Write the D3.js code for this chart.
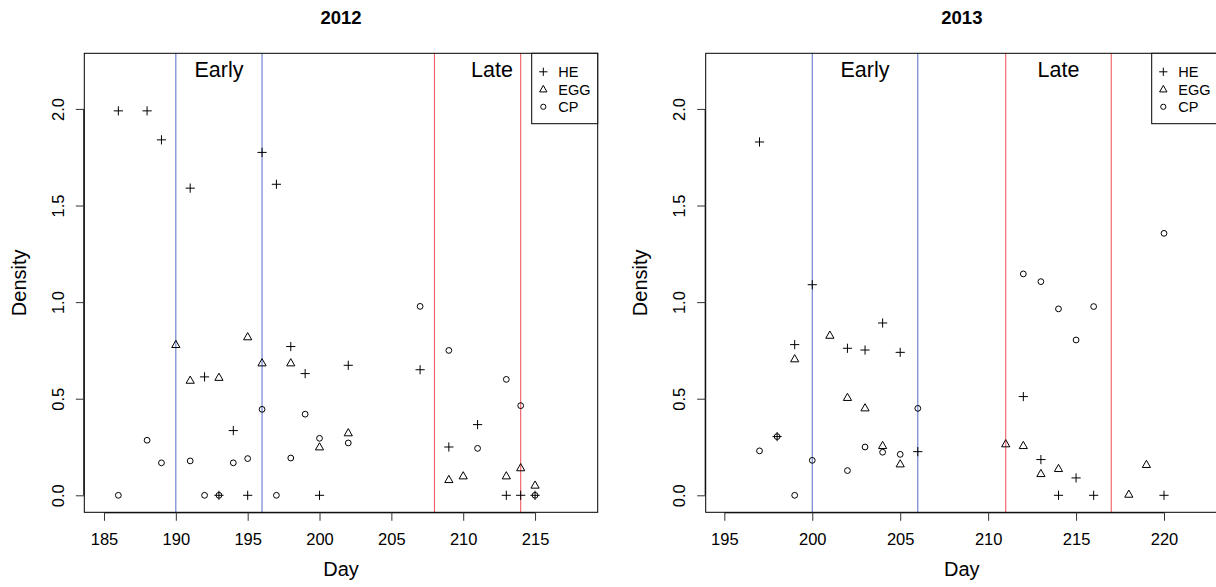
<!DOCTYPE html>
<html>
<head>
<meta charset="utf-8">
<title>Density by day</title>
<script src="https://cdn.jsdelivr.net/npm/d3@7"></script>
<style>
body { margin: 0; background: #fff; }
text { font-family: "Liberation Sans", Arial, sans-serif; fill: #000; }
</style>
</head>
<body>
<script>
// ---- data: [day, density] ----
var he2012 = [[186,1.99],[188,1.99],[189,1.84],[191,1.59],[192,0.613],[193,0],[194,0.335],[195,0],
  [196,1.775],[197,1.61],[198,0.77],[199,0.63],[200,0],[202,0.673],[207,0.65],[209,0.25],
  [211,0.366],[213,0],[214,0],[215,0]];
var egg2012 = [[190,0.78],[191,0.595],[193,0.61],[195,0.82],[196,0.685],[198,0.685],[200,0.25],
  [202,0.323],[209,0.081],[210,0.1],[213,0.1],[214,0.142],[215,0.052]];
var cp2012 = [[186,0],[188,0.285],[189,0.168],[191,0.178],[192,0],[193,0],[194,0.168],[195,0.19],
  [196,0.445],[197,0],[198,0.193],[199,0.42],[200,0.295],[202,0.271],[207,0.978],[209,0.75],
  [211,0.243],[213,0.6],[214,0.464],[215,0]];

var he2013 = [[197,1.829],[198,0.304],[199,0.78],[200,1.09],[202,0.761],[203,0.752],[204,0.892],
  [205,0.74],[206,0.226],[212,0.511],[213,0.185],[214,0],[215,0.09],[216,0],[220,0]];
var egg2013 = [[199,0.706],[201,0.828],[202,0.506],[203,0.452],[204,0.257],[205,0.162],[211,0.266],
  [212,0.257],[213,0.112],[214,0.138],[218,0.005],[219,0.159]];
var cp2013 = [[197,0.23],[198,0.304],[199,0],[200,0.181],[202,0.128],[203,0.25],[204,0.223],
  [205,0.212],[206,0.45],[212,1.146],[213,1.106],[214,0.965],[215,0.804],[216,0.977],[220,1.356]];

var early2012 = [190, 196], late2012 = [208, 214];
var early2013 = [200, 206], late2013 = [211, 217];
var labelDays2012 = [193, 212], labelDays2013 = [203, 214];

var xTicks2012 = [185, 190, 195, 200, 205, 210, 215];
var xTicks2013 = [195, 200, 205, 210, 215, 220];
var yTicks = [0, 0.5, 1, 1.5, 2];
var seriesNames = ["HE", "EGG", "CP"];

var W = 1216, H = 587;
var svg = d3.select("body").append("svg").attr("width", W).attr("height", H);

var top_ = 53.3, bottom_ = 512.3;

function marker(g, type, x, y, s) {
  s = s || 1;
  var p;
  if (type == "HE") {
    var a = 4.6 * s;
    p = "M" + (x-a) + "," + y + "H" + (x+a) + "M" + x + "," + (y-a) + "V" + (y+a);
  } else if (type == "EGG") {
    var hw = 4.1 * s, up = 4.3 * s, dn = 2.9 * s;
    p = "M" + x + "," + (y-up) + "L" + (x+hw) + "," + (y+dn) + "L" + (x-hw) + "," + (y+dn) + "Z";
  } else {
    g.append("circle").attr("cx", x).attr("cy", y).attr("r", 2.9 * s)
      .attr("stroke", "#000").attr("stroke-width", 1).attr("fill", "none");
    return;
  }
  g.append("path").attr("d", p).attr("stroke", "#000").attr("stroke-width", 1).attr("fill", "none");
}

function drawPanel(p) {
  var x = d3.scaleLinear().domain(p.xDomain).range([p.left, p.right]);
  var y = d3.scaleLinear().domain([-0.088, 2.288]).range([bottom_, top_]);
  var g = svg.append("g");

  // title
  g.append("text").attr("x", (p.left + p.right) / 2).attr("y", 23.5)
    .attr("text-anchor", "middle").attr("font-weight", "bold").attr("font-size", "18.5px").text(p.title);

  // period lines
  p.early.forEach(function(d) {
    g.append("line").attr("x1", x(d)).attr("x2", x(d)).attr("y1", top_).attr("y2", bottom_)
      .attr("stroke", "#6479cc").attr("stroke-width", 1.1);
  });
  p.late.forEach(function(d) {
    g.append("line").attr("x1", x(d)).attr("x2", x(d)).attr("y1", top_).attr("y2", bottom_)
      .attr("stroke", "#ef5d62").attr("stroke-width", 1.1);
  });
  g.append("text").attr("x", x(p.labels[0])).attr("y", 77).attr("text-anchor", "middle")
    .attr("font-size", "21.5px").text("Early");
  g.append("text").attr("x", x(p.labels[1])).attr("y", 77).attr("text-anchor", "middle")
    .attr("font-size", "21.5px").text("Late");

  // points
  p.cp.forEach(function(d) { marker(g, "CP", x(d[0]), y(d[1])); });
  p.egg.forEach(function(d) { marker(g, "EGG", x(d[0]), y(d[1])); });
  p.he.forEach(function(d) { marker(g, "HE", x(d[0]), y(d[1])); });

  // box
  g.append("rect").attr("x", p.left).attr("y", top_).attr("width", p.right - p.left)
    .attr("height", bottom_ - top_).attr("fill", "none").attr("stroke", "#000").attr("stroke-width", 1);

  // x axis
  var xa = g.append("g").attr("transform", "translate(0," + bottom_ + ")")
    .call(d3.axisBottom(x).tickValues(p.xTicks).tickSize(8.5).tickSizeOuter(0));
  xa.select(".domain").attr("d", "M" + x(p.xTicks[0]) + ",0.5H" + x(p.xTicks[p.xTicks.length - 1]));
  xa.selectAll(".tick line").attr("stroke", "#333");
  xa.selectAll(".tick text").attr("font-size", "16.5px").attr("font-family", "Liberation Sans, Arial, sans-serif")
    .attr("fill", "#000").attr("dy", null).attr("y", 32.7);

  // y axis
  var ya = g.append("g").attr("transform", "translate(" + p.left + ",0)")
    .call(d3.axisLeft(y).tickValues(yTicks).tickSize(8.5).tickFormat(d3.format(".1f")).tickSizeOuter(0));
  ya.select(".domain").attr("d", "M-0.5," + y(yTicks[0]) + "V" + y(yTicks[yTicks.length - 1]));
  ya.selectAll(".tick line").attr("stroke", "#333");
  ya.selectAll(".tick text").attr("font-size", "16.5px").attr("font-family", "Liberation Sans, Arial, sans-serif")
    .attr("fill", "#000").attr("text-anchor", "middle").attr("x", null).attr("dy", null)
    .attr("transform", "translate(-20.7,0) rotate(-90)");

  // axis labels
  g.append("text").attr("x", (p.left + p.right) / 2).attr("y", 576).attr("text-anchor", "middle")
    .attr("font-size", "20px").text("Day");
  g.append("text").attr("transform", "translate(" + (p.left - 58.8) + "," + ((top_ + bottom_) / 2) + ") rotate(-90)")
    .attr("text-anchor", "middle").attr("font-size", "20px").text("Density");

  // legend
  var lw = 66, lh = 70.4;
  var lx = p.legendRight - lw;
  var lg = g.append("g");
  lg.append("rect").attr("x", lx).attr("y", top_).attr("width", lw).attr("height", lh)
    .attr("fill", "#fff").attr("stroke", "#000").attr("stroke-width", 1);
  seriesNames.forEach(function(s, i) {
    var cy = top_ + 18.5 + i * 17.5;
    marker(lg, s, lx + 11.6, cy, 0.9);
    lg.append("text").attr("x", lx + 26.6).attr("y", cy + 5.2).attr("font-size", "14.5px").text(s);
  });
}

drawPanel({ title: "2012", left: 84.3, right: 597.7, xDomain: [183.63, 219.36], xTicks: xTicks2012,
  he: he2012, egg: egg2012, cp: cp2012, early: early2012, late: late2012, labels: labelDays2012, legendRight: 597.7 });
drawPanel({ title: "2013", left: 705.7, right: 1218, xDomain: [193.94, 223.07], xTicks: xTicks2013,
  he: he2013, egg: egg2013, cp: cp2013, early: early2013, late: late2013, labels: labelDays2013, legendRight: 1217.7 });
</script>
</body>
</html>
